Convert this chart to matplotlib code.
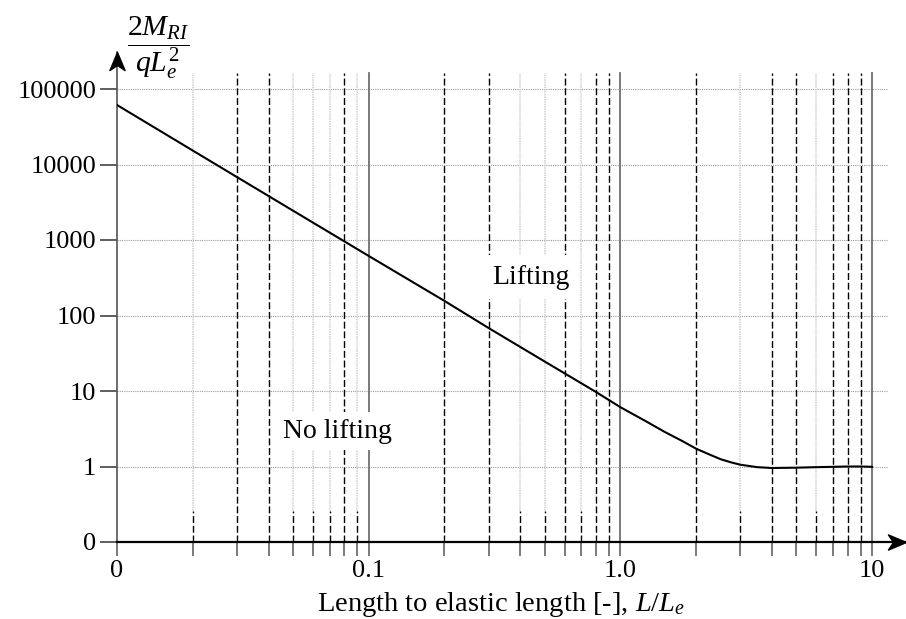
import matplotlib
matplotlib.use("Agg")
import matplotlib.pyplot as plt
from matplotlib.path import Path
import numpy as np

plt.rcParams['font.family'] = ['Liberation Serif', 'DejaVu Serif']
plt.rcParams['mathtext.fontset'] = 'custom'
plt.rcParams['mathtext.rm'] = 'Liberation Serif'
plt.rcParams['mathtext.it'] = 'Liberation Serif:italic'
plt.rcParams['mathtext.bf'] = 'Liberation Serif:bold'

# ---- data ----
ratio = [0.01, 0.02, 0.03, 0.05, 0.1, 0.2, 0.3, 0.5, 0.8, 1.0, 1.25, 1.5, 1.75,
         2.0, 2.25, 2.5, 2.75, 3.0, 3.5, 4.0, 5.0, 6.0, 7.0, 8.0, 9.0, 10.0]
moment = [61400, 15300, 6800, 2450, 615, 156, 68, 24.6, 9.7, 6.1, 4.05, 2.87, 2.2,
          1.72, 1.45, 1.25, 1.135, 1.055, 0.98, 0.955, 0.965, 0.98, 0.99, 1.0, 1.0, 0.99]

x_tick_vals = [0.01, 0.1, 1.0, 10.0]
x_tick_labels = ["0", "0.1", "1.0", "10"]
y_tick_vals = [0.1, 1, 10, 100, 1000, 10000, 100000]
y_tick_labels = ["0", "1", "10", "100", "1000", "10000", "100000"]

dashed_x = [0.03, 0.04, 0.08, 0.2, 0.3, 0.6, 0.8, 0.9, 2, 4, 5, 7, 8, 9]
light_x = [0.02, 0.05, 0.06, 0.07, 0.09, 0.4, 0.5, 0.7, 3, 6]
decade_x = [0.1, 1.0, 10.0]
minor_x = [m * d for d in [0.01, 0.1, 1.0] for m in range(2, 10)]

# ---- layout ----
W, H = 906, 619
fig = plt.figure(figsize=(W / 100, H / 100), dpi=100)
px_l, px_r, px_b, px_t = 117, 906, 542, 52
ax = fig.add_axes([px_l / W, 1 - px_b / H, (px_r - px_l) / W, (px_b - px_t) / H])
ax.set_xscale('log')
ax.set_yscale('log')
xdec = 251.7
ydec = 75.5
xmax = 0.01 * 10 ** ((px_r - px_l) / xdec)
ymax = 0.1 * 10 ** ((px_b - px_t) / ydec)
ax.set_xlim(0.01, xmax)
ax.set_ylim(0.1, ymax)

def xv_at(px):
    return 0.01 * 10 ** ((px - px_l) / xdec)

def yv_at(py):
    return 0.1 * 10 ** ((px_b - py) / ydec)

vtop = yv_at(73)
vsplit = yv_at(511)
grid_right = xv_at(887)

# horizontal dotted gridlines
for yv in y_tick_vals[1:]:
    ax.plot([0.01, grid_right], [yv, yv], color='#9a9a9a', lw=0.8,
            linestyle=(0, (1, 1)), zorder=1)

# light gray vertical lines
for xv in light_x:
    ax.plot([xv, xv], [vsplit, vtop], color='#cfcfcf', lw=1.1,
            linestyle=(0, (1, 0.6)), zorder=1)
    ax.plot([xv, xv], [0.1, vsplit], color='black', lw=1.0,
            linestyle=(0, (5, 2)), zorder=2)
# dashed black vertical lines
for xv in dashed_x:
    ax.plot([xv, xv], [0.1, vtop], color='black', lw=1.0,
            linestyle=(0, (5, 2)), zorder=2)
# solid decade lines
for xv in decade_x:
    ax.plot([xv, xv], [0.1, vtop], color='#707070', lw=1.3, zorder=2)

# curve
ax.plot(ratio, moment, color='black', lw=1.5, zorder=4)

# annotations with white backgrounds
ax.text(xv_at(337), yv_at(431), "No lifting", fontsize=20,
        ha='center', va='center', zorder=3,
        bbox=dict(facecolor='white', edgecolor='none', pad=5))
ax.text(xv_at(531), yv_at(277), "Lifting", fontsize=20,
        ha='center', va='center', zorder=3,
        bbox=dict(facecolor='white', edgecolor='none', pad=7))

# spines / axes
for s in ['top', 'right']:
    ax.spines[s].set_visible(False)
ax.spines['left'].set_color('#555555')
ax.spines['left'].set_linewidth(1.2)
ax.spines['bottom'].set_color('black')
ax.spines['bottom'].set_linewidth(1.6)
ax.spines['bottom'].set_zorder(5)

ax.set_xticks(x_tick_vals)
ax.set_xticklabels(x_tick_labels)
ax.set_xticks(minor_x, minor=True)
ax.xaxis.set_minor_formatter(matplotlib.ticker.NullFormatter())
ax.set_yticks(y_tick_vals)
ax.set_yticklabels(y_tick_labels)
ax.yaxis.set_minor_locator(matplotlib.ticker.NullLocator())
ax.tick_params(axis='x', which='both', direction='out', length=10, width=1.1,
               color='#555555', labelsize=19, pad=3)
ax.tick_params(axis='y', which='major', direction='out', length=12, width=1.1,
               color='#333333', labelsize=19, pad=3)

# arrowheads
arrow_r = Path([(0, 0), (-1, 0.42), (-0.72, 0), (-1, -0.42), (0, 0)],
               [Path.MOVETO, Path.LINETO, Path.LINETO, Path.LINETO, Path.CLOSEPOLY])
arrow_u = Path([(0, 0), (0.42, -1), (0, -0.72), (-0.42, -1), (0, 0)],
               [Path.MOVETO, Path.LINETO, Path.LINETO, Path.LINETO, Path.CLOSEPOLY])
ax.plot([xmax], [0.1], marker=arrow_r, markersize=26, color='black', clip_on=False, zorder=6)
ax.plot([0.01], [ymax], marker=arrow_u, markersize=26, color='black', clip_on=False, zorder=6)

# axis labels
fig.text(501 / W, 1 - 611 / H, r"Length to elastic length [-], $L/L_e$", fontsize=20.5,
         ha='center', va='baseline')
fig.text(158 / W, 1 - 48 / H, r"$\dfrac{2M_{RI}}{qL_e^2}$", fontsize=21.5,
         ha='center', va='center')

fig.savefig("out.png", dpi=100)
